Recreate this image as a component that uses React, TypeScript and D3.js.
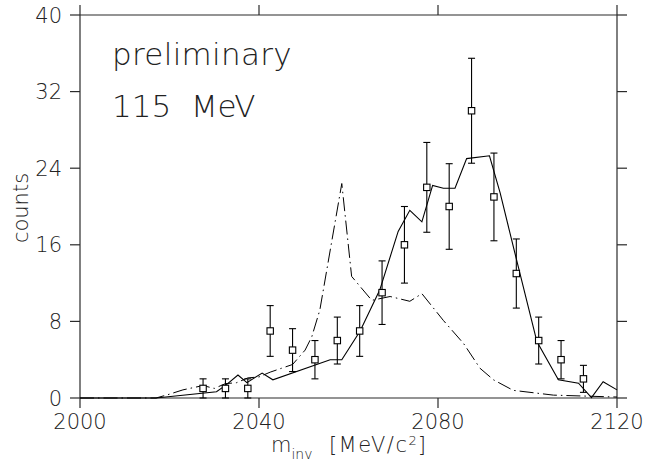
import React from "react";
import * as d3 from "d3";

const xTicks = [2000, 2040, 2080, 2120];
const yTicks = [0, 8, 16, 24, 32, 40];

const pointMass = [2027.5, 2032.5, 2037.5, 2042.5, 2047.5, 2052.5, 2057.5, 2062.5, 2067.5, 2072.5, 2077.5, 2082.5, 2087.5, 2092.5, 2097.5, 2102.5, 2107.5, 2112.5];
const pointCounts = [1, 1, 1, 7, 5, 4, 6, 7, 11, 16, 22, 20, 30, 21, 13, 6, 4, 2];
const pointErrors = [1, 1, 1, 2.65, 2.24, 2, 2.45, 2.65, 3.32, 4, 4.69, 4.47, 5.48, 4.58, 3.61, 2.45, 2, 1.41];

const solidMass = [2000, 2017, 2030.5, 2032.6, 2035.3, 2037.3, 2040.7, 2043.1, 2055.9, 2058.5, 2062.6, 2067, 2071.1, 2073.7, 2076.4, 2078.8, 2081.2, 2083.8, 2086.4, 2091.5, 2093.9, 2097.2, 2102.1, 2106.9, 2111.4, 2114.3, 2116.9, 2120];
const solidCounts = [0, 0, 0.65, 1.35, 2.4, 1.6, 2.6, 1.9, 4.0, 4.0, 7.0, 11.3, 17.4, 19.6, 18.4, 22.2, 21.9, 21.9, 25.0, 25.3, 21.4, 15.1, 5.9, 1.9, 1.55, 0.05, 1.7, 0.85];

const dashMass = [2000, 2017, 2020, 2023, 2027.5, 2030, 2032.5, 2035, 2037.5, 2040, 2042.5, 2045, 2047.5, 2050.3, 2051.8, 2053.6, 2058.5, 2060.7, 2065.2, 2069.3, 2073.7, 2076.4, 2081.2, 2085.7, 2089.4, 2092.4, 2096.8, 2105.8, 2120];
const dashCounts = [0, 0, 0.4, 0.85, 1.3, 1.0, 1.5, 1.6, 2.1, 2.2, 2.7, 3.1, 3.5, 5.0, 6.4, 9.2, 22.4, 12.7, 10.2, 10.6, 10.1, 10.9, 8.1, 5.7, 3.1, 1.9, 0.8, 0.3, 0.1];

const W = 652;
const H = 461;
const FONT = "'DejaVu Sans', sans-serif";

export default function App() {
  const x = d3.scaleLinear().domain([2000, 2120]).range([80, 617]);
  const y = d3.scaleLinear().domain([0, 40]).range([398, 15]);
  const line = d3
    .line<[number, number]>()
    .x((d) => x(d[0]))
    .y((d) => y(d[1]));
  const solid = solidMass.map((m, i) => [m, solidCounts[i]] as [number, number]);
  const dashed = dashMass.map((m, i) => [m, dashCounts[i]] as [number, number]);
  const [x0, x1] = x.range();
  const [y0, y1] = y.range();
  const axisColor = "#2a2a2a";
  const textColor = "#222";
  const tl = 10;

  return (
    <svg
      width={W}
      height={H}
      style={{ position: "absolute", left: 0, top: 0, background: "#fff" }}
      fontFamily={FONT}
    >
      <rect x={0} y={0} width={W} height={H} fill="#fff" />
      {/* frame */}
      <g stroke={axisColor} strokeWidth={1.2} fill="none">
        <line x1={x0} y1={y0} x2={x1} y2={y0} />
        <line x1={x0} y1={y1} x2={x1} y2={y1} />
        <line x1={x0} y1={y0} x2={x0} y2={y1} />
        <line x1={x1} y1={y0} x2={x1} y2={y1} />
        {yTicks.map((t) => (
          <g key={"yt" + t}>
            <line x1={x0 - tl} x2={x0} y1={y(t)} y2={y(t)} />
            <line x1={x1} x2={x1 + tl} y1={y(t)} y2={y(t)} />
          </g>
        ))}
        {xTicks.map((t) => (
          <g key={"xt" + t}>
            <line x1={x(t)} x2={x(t)} y1={y0} y2={y0 + tl} />
            <line x1={x(t)} x2={x(t)} y1={y1 - tl} y2={y1} />
          </g>
        ))}
      </g>
      {/* tick labels */}
      <g fill={textColor} fontSize={21} fontWeight={200}>
        {yTicks.map((t) => (
          <text key={"yl" + t} x={62} y={y(t) + 7.5} textAnchor="end">
            {t}
          </text>
        ))}
        {xTicks.map((t) => (
          <text key={"xl" + t} x={x(t)} y={429} textAnchor="middle">
            {t}
          </text>
        ))}
      </g>
      {/* curves */}
      <path d={line(dashed) || ""} fill="none" stroke="#000" strokeWidth={1} strokeDasharray="14,4,1.5,4" />
      <path d={line(solid) || ""} fill="none" stroke="#000" strokeWidth={1.1} />
      {/* data points */}
      <g stroke="#000" strokeWidth={1.1}>
        {pointMass.map((m, i) => {
          const cx = x(m);
          const top = y(pointCounts[i] + pointErrors[i]);
          const bot = y(Math.max(0, pointCounts[i] - pointErrors[i]));
          return (
            <g key={"p" + i}>
              <line x1={cx} x2={cx} y1={top} y2={bot} />
              <line x1={cx - 3.5} x2={cx + 3.5} y1={top} y2={top} />
              <line x1={cx - 3.5} x2={cx + 3.5} y1={bot} y2={bot} />
              <rect x={cx - 3.2} y={y(pointCounts[i]) - 3.2} width={6.4} height={6.4} fill="#fff" />
            </g>
          );
        })}
      </g>
      {/* annotations */}
      <g fill={textColor} fontSize={31} fontWeight={200}>
        <text x={112} y={65} letterSpacing={0.3}>preliminary</text>
        <text x={112} y={117} style={{ whiteSpace: "pre" }}>
          {"115  MeV"}
        </text>
      </g>
      <text
        transform="translate(28,208) rotate(-90)"
        textAnchor="middle"
        fontSize={21}
        fontWeight={200}
        fill={textColor}
      >
        counts
      </text>
      <text x={271} y={452} fontSize={21} fontWeight={200} fill={textColor} style={{ whiteSpace: "pre" }}>
        m
        <tspan fontSize={14} dy={7}>inv</tspan>
        <tspan dy={-7} letterSpacing={1.5}>{"  [MeV/c"}</tspan>
        <tspan fontSize={13} dy={-7}>2</tspan>
        <tspan dy={7} dx={1}>]</tspan>
      </text>
    </svg>
  );
}
